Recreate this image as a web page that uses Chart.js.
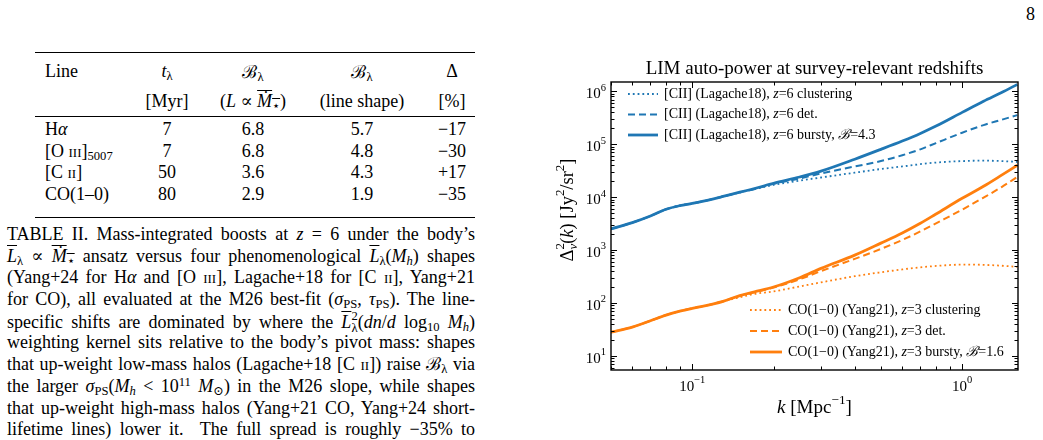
<!doctype html>
<html lang="en">
<head>
  <meta charset="utf-8">
  <title>LIM auto-power at survey-relevant redshifts</title>
  <style>
    * { margin: 0; padding: 0; }
    body {
      width: 1043px; height: 440px; overflow: hidden; position: relative;
      background: white; color: black;
      font-family: "Liberation Serif", "DejaVu Serif", serif;
    }
    .abs { position: absolute; white-space: nowrap; font-size: 18px; }
    .c { transform: translate(-50%, -50%); }
    .l { transform: translate(0, -50%); }
    .rule { position: absolute; left: 35px; width: 440px; background: black; }
    .sc { font-variant: small-caps; }
    .ol { text-decoration: overline; }
    sub, sup { font-size: 0.7em; line-height: 0; }
    sub { vertical-align: -0.25em; }
    sup { vertical-align: 0.45em; }
    .ss { display: inline-block; vertical-align: -0.3em; font-size: 0.7em; line-height: 0.95; }
    .ss span { display: block; }
    .cap { position: absolute; left: 7px; top: 224px; width: 468px; font-size: 18px; }
    .cap div { height: 21.7px; line-height: 21.7px; text-align: justify; text-align-last: justify; }
    .page { position: absolute; right: 8px; top: 4px; font-size: 18px; }
    #box { position: absolute; left: 540px; top: 50px; width: 503px; height: 390px; }
  </style>
</head>
<body>
  <div class="page">8</div>

  <!-- table -->
  <div class="rule" style="top:52px;height:1.3px"></div>
  <div class="abs l" style="left:45px;top:71px">Line</div>
  <div class="abs c" style="left:167px;top:71px"><i>t</i><sub>λ</sub></div>
  <div class="abs c" style="left:253px;top:71px">ℬ<sub>λ</sub></div>
  <div class="abs c" style="left:362px;top:71px">ℬ<sub>λ</sub></div>
  <div class="abs c" style="left:452px;top:71px">Δ</div>
  <div class="abs c" style="left:167px;top:101px">[Myr]</div>
  <div class="abs c" style="left:253px;top:101px">(<i>L</i> ∝ <span class="ol"><i>Ṁ</i><sub>⋆</sub></span>)</div>
  <div class="abs c" style="left:362px;top:101px">(line shape)</div>
  <div class="abs c" style="left:452px;top:101px">[%]</div>
  <div class="rule" style="top:116px;height:0.8px"></div>

  <div class="abs l" style="left:45px;top:129px">H<i>α</i></div>
  <div class="abs c" style="left:167px;top:129px">7</div>
  <div class="abs c" style="left:253px;top:129px">6.8</div>
  <div class="abs c" style="left:362px;top:129px">5.7</div>
  <div class="abs c" style="left:452px;top:129px">−17</div>

  <div class="abs l" style="left:45px;top:151px">[O <span class="sc">iii</span>]<sub>5007</sub></div>
  <div class="abs c" style="left:167px;top:151px">7</div>
  <div class="abs c" style="left:253px;top:151px">6.8</div>
  <div class="abs c" style="left:362px;top:151px">4.8</div>
  <div class="abs c" style="left:452px;top:151px">−30</div>

  <div class="abs l" style="left:45px;top:172px">[C <span class="sc">ii</span>]</div>
  <div class="abs c" style="left:167px;top:172px">50</div>
  <div class="abs c" style="left:253px;top:172px">3.6</div>
  <div class="abs c" style="left:362px;top:172px">4.3</div>
  <div class="abs c" style="left:452px;top:172px">+17</div>

  <div class="abs l" style="left:45px;top:194px">CO(1–0)</div>
  <div class="abs c" style="left:167px;top:194px">80</div>
  <div class="abs c" style="left:253px;top:194px">2.9</div>
  <div class="abs c" style="left:362px;top:194px">1.9</div>
  <div class="abs c" style="left:452px;top:194px">−35</div>
  <div class="rule" style="top:217px;height:1.3px"></div>

  <!-- caption -->
  <div class="cap">
    <div>TABLE II. Mass-integrated boosts at <i>z</i> = 6 under the body’s</div>
    <div><span class="ol"><i>L</i></span><sub>λ</sub> ∝ <span class="ol"><i>Ṁ</i><sub>⋆</sub></span> ansatz versus four phenomenological <span class="ol"><i>L</i></span><sub>λ</sub>(<i>M</i><sub><i>h</i></sub>) shapes</div>
    <div>(Yang+24 for H<i>α</i> and [O <span class="sc">iii</span>], Lagache+18 for [C <span class="sc">ii</span>], Yang+21</div>
    <div>for CO), all evaluated at the M26 best-fit (<i>σ</i><sub>PS</sub>, <i>τ</i><sub>PS</sub>). The line-</div>
    <div>specific shifts are dominated by where the <span class="ol"><i>L</i></span><span class="ss"><span>2</span><span>λ</span></span>(<i>dn</i>/<i>d</i> log<sub>10</sub> <i>M</i><sub><i>h</i></sub>)</div>
    <div>weighting kernel sits relative to the body’s pivot mass: shapes</div>
    <div>that up-weight low-mass halos (Lagache+18 [C <span class="sc">ii</span>]) raise ℬ<sub>λ</sub> via</div>
    <div>the larger <i>σ</i><sub>PS</sub>(<i>M</i><sub><i>h</i></sub> &lt; 10<sup>11</sup> <i>M</i><sub>⊙</sub>) in the M26 slope, while shapes</div>
    <div>that up-weight high-mass halos (Yang+21 CO, Yang+24 short-</div>
    <div>lifetime lines) lower it.&nbsp; The full spread is roughly −35% to</div>
  </div>

  <div id="box"><canvas id="myChart" width="503" height="390"></canvas></div>

  <script src="https://cdn.jsdelivr.net/npm/chart.js"></script>
  <script>
    // wavenumbers k [1/Mpc]
    const kVals = [0.05, 0.06, 0.07, 0.08, 0.09, 0.1, 0.11, 0.12, 0.13, 0.15, 0.17,
                   0.2, 0.25, 0.3, 0.4, 0.5, 0.6, 0.7, 0.8, 1.0, 1.2, 1.4, 1.6];

    // [CII] Lagache18, z=6
    const ciiClust  = [2500, 3300, 4400, 5900, 6900, 7600, 8400, 9300, 10300, 12200, 14100,
                       17000, 20500, 23500, 29000, 34000, 38000, 42000, 45000, 48000, 49000, 48000, 46500];
    const ciiDet    = [2500, 3300, 4400, 5900, 6900, 7600, 8400, 9300, 10300, 12300, 14300,
                       17800, 22500, 28000, 38000, 48000, 62000, 80000, 105000, 165000, 230000, 290000, 355000];
    const ciiBursty = [2500, 3300, 4400, 5900, 6900, 7600, 8400, 9300, 10300, 12400, 14500,
                       18300, 24000, 31000, 52000, 80000, 115000, 160000, 220000, 400000, 650000, 950000, 1350000];

    // CO(1-0) Yang21, z=3
    const coClust  = [28, 35, 46, 59, 70, 79, 87, 96, 107, 128, 148,
                      165, 205, 245, 320, 380, 430, 470, 500, 530, 525, 505, 480];
    const coDet    = [28, 35, 46, 59, 70, 79, 87, 96, 107, 136, 159,
                      195, 280, 400, 680, 1050, 1550, 2250, 3200, 5800, 9800, 15500, 24000];
    const coBursty = [28, 35, 46, 59, 70, 79, 87, 96, 107, 138, 162,
                      200, 300, 450, 800, 1350, 2100, 3200, 4800, 9500, 16000, 26000, 40000];

    const seriesLabels = [
      '[CII] (Lagache18), z=6 clustering',
      '[CII] (Lagache18), z=6 det.',
      '[CII] (Lagache18), z=6 bursty, ℬ=4.3',
      'CO(1−0) (Yang21), z=3 clustering',
      'CO(1−0) (Yang21), z=3 det.',
      'CO(1−0) (Yang21), z=3 bursty, ℬ=1.6'
    ];
    const yTickExp = [1, 2, 3, 4, 5, 6];
    const xTickExp = [-1, 0];

    const BLUE = '#1f77b4', ORANGE = '#ff7f0e';
    const SERIF = '"Liberation Serif", "DejaVu Serif", serif';
    const DOT = [1.8, 3], DASH = [7, 4];

    const pts = arr => arr.map((v, i) => ({ x: kVals[i], y: v }));

    function mk(label, arr, color, dash, width, group) {
      return {
        label, data: pts(arr), borderColor: color, backgroundColor: color,
        borderDash: dash, borderWidth: width, pointRadius: 0,
        cubicInterpolationMode: 'monotone', legendGroup: group
      };
    }

    const data = {
      datasets: [
        mk(seriesLabels[0], ciiClust, BLUE, DOT, 1.8, 0),
        mk(seriesLabels[1], ciiDet, BLUE, DASH, 2, 0),
        mk(seriesLabels[2], ciiBursty, BLUE, [], 2.8, 0),
        mk(seriesLabels[3], coClust, ORANGE, DOT, 1.8, 1),
        mk(seriesLabels[4], coDet, ORANGE, DASH, 2, 1),
        mk(seriesLabels[5], coBursty, ORANGE, [], 2.8, 1)
      ]
    };

    // draw text made of parts: {t, i (italic), s ('sup'|'sub'), back (no advance)}
    function partFont(p, size) {
      const sz = p.s ? size * 0.7 : size;
      return (p.i ? 'italic ' : '') + sz + 'px ' + SERIF;
    }
    function richWidth(ctx, parts, size) {
      let w = 0;
      parts.forEach(p => { ctx.font = partFont(p, size); if (!p.back) w += ctx.measureText(p.t).width; });
      return w;
    }
    function richText(ctx, parts, x, y, size) {
      let cx = x;
      ctx.textBaseline = 'middle';
      ctx.textAlign = 'left';
      parts.forEach(p => {
        ctx.font = partFont(p, size);
        let dy = 0;
        if (p.s === 'sup') dy = -size * 0.42;
        if (p.s === 'sub') dy = size * 0.3;
        ctx.fillText(p.t, cx, y + dy);
        if (!p.back) cx += ctx.measureText(p.t).width;
      });
    }
    function labelParts(str) {
      return str.split(/([zℬ])/).filter(s => s).map(s => ({ t: s, i: s === 'z' || s === 'ℬ' }));
    }

    const axesPlugin = {
      id: 'axesPlugin',
      afterDraw(chart) {
        const { ctx, chartArea: a, scales: { x, y } } = chart;
        ctx.save();
        ctx.strokeStyle = 'black';
        ctx.fillStyle = 'black';

        // ticks on all four sides, pointing in
        ctx.lineWidth = 1;
        ctx.beginPath();
        for (let e = -2; e <= 1; e++) for (let m = 1; m <= 9; m++) {
          const v = m * Math.pow(10, e);
          if (v < x.min || v > x.max) continue;
          const px = Math.round(x.getPixelForValue(v)) + 0.5;
          const len = m === 1 ? 6 : 3.5;
          ctx.moveTo(px, a.bottom); ctx.lineTo(px, a.bottom - len);
          ctx.moveTo(px, a.top); ctx.lineTo(px, a.top + len);
        }
        for (let e = 0; e <= 7; e++) for (let m = 1; m <= 9; m++) {
          const v = m * Math.pow(10, e);
          if (v < y.min || v > y.max) continue;
          const py = Math.round(y.getPixelForValue(v)) + 0.5;
          const len = m === 1 ? 6 : 3.5;
          ctx.moveTo(a.left, py); ctx.lineTo(a.left + len, py);
          ctx.moveTo(a.right, py); ctx.lineTo(a.right - len, py);
        }
        ctx.stroke();

        // frame
        ctx.lineWidth = 1.4;
        ctx.strokeRect(a.left, a.top, a.right - a.left, a.bottom - a.top);

        // tick labels
        const fs = 15;
        yTickExp.forEach(e => {
          const py = y.getPixelForValue(Math.pow(10, e));
          const parts = [{ t: '10' }, { t: String(e), s: 'sup' }];
          const w = richWidth(ctx, parts, fs);
          richText(ctx, parts, a.left - 5 - w, py + 3, fs);
        });
        xTickExp.forEach(e => {
          const px = x.getPixelForValue(Math.pow(10, e));
          const parts = [{ t: '10' }, { t: String(e).replace('-', '−'), s: 'sup' }];
          const w = richWidth(ctx, parts, fs);
          richText(ctx, parts, px - w / 2, a.bottom + 17, fs);
        });

        // axis titles
        const xl = [{ t: 'k', i: true }, { t: ' [Mpc' }, { t: '−1', s: 'sup' }, { t: ']' }];
        const xw = richWidth(ctx, xl, 19);
        richText(ctx, xl, (a.left + a.right) / 2 - xw / 2, a.bottom + 38, 19);

        const yl = [{ t: 'Δ' }, { t: '2', s: 'sup', back: true }, { t: 'ν', i: true, s: 'sub' },
                    { t: '(' }, { t: 'k', i: true }, { t: ') [Jy' }, { t: '2', s: 'sup' },
                    { t: '/sr' }, { t: '2', s: 'sup' }, { t: ']' }];
        const yw = richWidth(ctx, yl, 18.5);
        ctx.save();
        ctx.translate(a.left - 43, (a.top + a.bottom) / 2 - 16);
        ctx.rotate(-Math.PI / 2);
        richText(ctx, yl, -yw / 2, 0, 18.5);
        ctx.restore();

        // title
        ctx.font = '19px ' + SERIF;
        ctx.textAlign = 'center';
        ctx.textBaseline = 'middle';
        ctx.fillText('LIM auto-power at survey-relevant redshifts', (a.left + a.right) / 2, a.top - 13);

        // two legends
        const spots = [
          { x0: a.left + 17, len: 30, y0: a.top + 12, gap: 20.5 },
          { x0: a.left + 139, len: 32, y0: a.bottom - 60, gap: 21 }
        ];
        const count = [0, 0];
        chart.data.datasets.forEach(ds => {
          const g = ds.legendGroup, s = spots[g];
          const ly = s.y0 + count[g] * s.gap;
          count[g]++;
          ctx.save();
          ctx.strokeStyle = ds.borderColor;
          ctx.lineWidth = ds.borderWidth;
          ctx.setLineDash(ds.borderDash);
          ctx.beginPath();
          ctx.moveTo(s.x0, ly); ctx.lineTo(s.x0 + s.len, ly);
          ctx.stroke();
          ctx.restore();
          ctx.fillStyle = 'black';
          richText(ctx, labelParts(ds.label), s.x0 + s.len + 6, ly, 14);
        });
        ctx.restore();
      }
    };

    const config = {
      type: 'line',
      data,
      options: {
        responsive: false,
        animation: false,
        layout: { padding: { left: 71, top: 32, right: 25, bottom: 70 } },
        scales: {
          x: {
            type: 'logarithmic', min: 0.05, max: 1.61,
            ticks: { display: false }, grid: { display: false }, border: { display: false },
            afterFit(s) { s.height = 0; }
          },
          y: {
            type: 'logarithmic', min: 5.4, max: 1.5e6,
            ticks: { display: false }, grid: { display: false }, border: { display: false },
            afterFit(s) { s.width = 0; }
          }
        },
        plugins: { legend: { display: false }, tooltip: { enabled: false }, title: { display: false } }
      },
      plugins: [axesPlugin]
    };

    const myChart = new Chart(document.getElementById('myChart'), config);
  </script>
</body>
</html>
